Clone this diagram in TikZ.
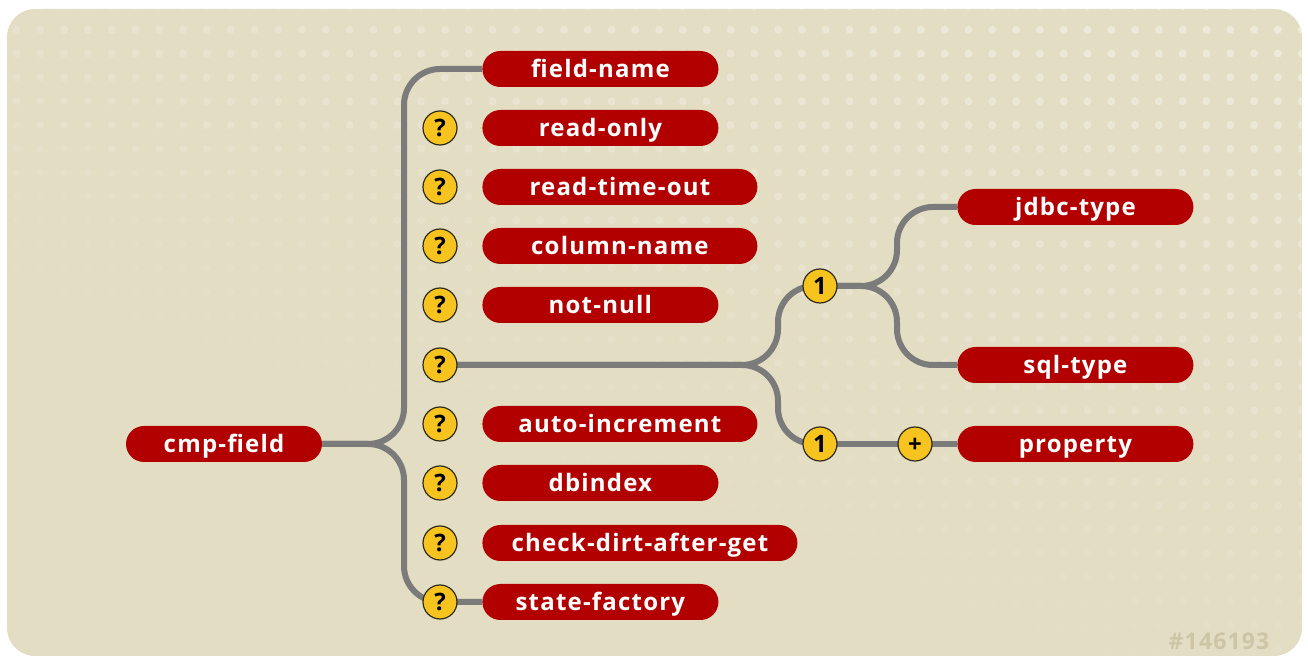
\documentclass[tikz,border=0pt]{standalone}
\usepackage{fontspec}
\setmainfont{Open Sans}[LetterSpace=5]
\usepackage{xcolor}
\usepackage{tikz}
\definecolor{paneltan}{HTML}{E3DDC3}
\definecolor{elemred}{HTML}{B20000}
\definecolor{linkgray}{HTML}{7B7B7B}
\definecolor{badgeyellow}{HTML}{F7C41F}
\definecolor{badgeline}{HTML}{2E2A1E}
\definecolor{markgray}{HTML}{CDC5A6}
\pgfdeclarelayer{backdrop}
\pgfdeclarelayer{background}
\pgfsetlayers{backdrop,background,main}
\tikzset{
  element/.style={fill=elemred,text=white,rounded corners=9pt,
    minimum height=18pt,inner sep=0pt,text height=9pt,text depth=0pt,
    font=\bfseries\fontsize{12}{14}\selectfont},
  badge/.style={circle,fill=badgeyellow,draw=badgeline,line width=0.6pt,
    minimum size=17pt,inner sep=0pt,text height=8.5pt,text depth=0pt,
    font=\bfseries\fontsize{12}{14}\selectfont},
  link/.style={draw=linkgray,line width=3pt},
  dotmark/.style={fill=white,draw=none}
}

\begin{document}
\begin{tikzpicture}[x=0.5pt,y=-0.5pt]
  \useasboundingbox (0,0) rectangle (1308,657);
  \begin{pgfonlayer}{backdrop}
    \fill[paneltan,rounded corners=14pt] (7,9) rectangle (1302,656);
    \clip[rounded corners=14pt] (7,9) rectangle (1302,656);
    \foreach \i in {0,...,54}
      \foreach \j in {0,...,27} {
        \pgfmathsetmacro\dx{16.5+23.8*\i}
        \pgfmathsetmacro\dy{6+23.8*\j}
        \pgfmathsetmacro\op{0.4*max(0,min(1,1.05-0.9*\dy/657-0.6*(1-\dx/1300)))}
        \fill[dotmark,opacity=\op] (\dx,\dy) circle (2pt);
      }
  \end{pgfonlayer}

  % elements
  \node[element,minimum width=98pt] (cmpfield) at (224,444) {cmp-field};
  \foreach \y/\name/\txt/\w in {69/fieldname/field-name/118,
      128/readonly/read-only/118, 187/readtimeout/read-time-out/137.5,
      246/columnname/column-name/137.5, 305/notnull/not-null/118,
      424/autoincrement/auto-increment/137.5, 483/dbindex/dbindex/118,
      543/checkdirt/check-dirt-after-get/157.5,
      602/statefactory/state-factory/118}
    \node[element,anchor=west,minimum width=\w pt] (\name) at (482,\y) {\txt};
  \node[element,anchor=west,minimum width=118pt] (jdbctype) at (957,207) {jdbc-type};
  \node[element,anchor=west,minimum width=118pt] (sqltype) at (957,365) {sql-type};
  \node[element,anchor=west,minimum width=118pt] (property) at (957,444) {property};

  % badges
  \foreach \k/\y in {2/128,3/187,4/246,5/305,6/365,7/424,8/483,9/543,10/602}
    \node[badge] (q\k) at (440,\y) {?};
  \node[badge] (one1) at (820,286) {1};
  \node[badge] (one2) at (820,444) {1};
  \node[badge] (plus) at (915,444) {+};

  \node[font=\bfseries\fontsize{11.5}{14}\selectfont,text=markgray] (tag) at (1219,641) {\#146193};

  \begin{pgfonlayer}{background}
    \draw[link,rounded corners=18pt] (cmpfield.east) -| (404,69) -- (fieldname.west);
    \draw[link,rounded corners=18pt] (cmpfield.east) -| (404,602) -- (statefactory.west);
    \draw[link,rounded corners=18pt] (q6.center) -| (778,286) -- (one1.center);
    \draw[link,rounded corners=18pt] (q6.center) -| (778,444) -- (one2.center);
    \draw[link,rounded corners=18pt] (one1.center) -| (897,207) -- (jdbctype.west);
    \draw[link,rounded corners=18pt] (one1.center) -| (897,365) -- (sqltype.west);
    \draw[link] (one2.center) -- (plus.center) -- (property.west);
  \end{pgfonlayer}
\end{tikzpicture}
\end{document}
